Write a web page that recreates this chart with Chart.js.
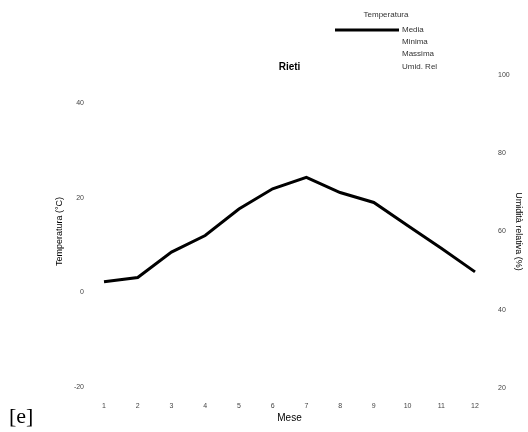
<!DOCTYPE html>
<html lang="it">
<head>
    <meta charset="UTF-8">
    <title>Rieti</title>
    <script src="https://cdn.jsdelivr.net/npm/chart.js"></script>
    <style>
        body { margin: 0; background: #fff; }
        .wrap { width: 528px; height: 432px; position: relative; }
    </style>
</head>
<body>
    <div class="wrap">
        <canvas id="climaChart"></canvas>
    </div>

    <script>
        // Dati
        const mesi = ['1', '2', '3', '4', '5', '6', '7', '8', '9', '10', '11', '12'];
        const media = [2.2, 3.1, 8.5, 12.0, 17.6, 21.9, 24.3, 21.1, 19.0, 14.1, 9.3, 4.3];
        const minima = [];
        const massima = [];
        const umidRel = [];
        const tickTemp = [-20, 0, 20, 40];
        const tickUmid = [20, 40, 60, 80, 100];

        const FONT = "'Liberation Sans', Arial, sans-serif";

        // legenda, titolo e etichetta [e]
        const decorazioni = {
            id: 'decorazioni',
            afterDraw(chart) {
                const ctx = chart.ctx;
                const area = chart.chartArea;
                ctx.save();
                ctx.fillStyle = '#000';
                ctx.textBaseline = 'middle';

                ctx.font = 'bold 10px ' + FONT;
                ctx.textAlign = 'center';
                ctx.fillText('Rieti', (area.left + area.right) / 2, 67);

                ctx.font = '8px ' + FONT;
                ctx.fillStyle = '#333';
                ctx.fillText('Temperatura', 386, 15);

                ctx.textAlign = 'left';
                const righe = [30, 42, 54, 67];
                chart.data.datasets.forEach((ds, i) => {
                    const y = righe[i];
                    ctx.strokeStyle = ds.borderColor;
                    ctx.lineWidth = ds.borderWidth;
                    ctx.beginPath();
                    ctx.moveTo(335, y);
                    ctx.lineTo(399, y);
                    ctx.stroke();
                    ctx.fillText(ds.label, 402, y);
                });

                ctx.fillStyle = '#000';
                ctx.font = '22px "Liberation Serif", serif';
                ctx.textBaseline = 'alphabetic';
                ctx.fillText('[e]', 9, 423);
                ctx.restore();
            }
        };

        const climaChart = new Chart(document.getElementById('climaChart'), {
            type: 'line',
            data: {
                labels: mesi,
                datasets: [
                    { label: 'Media', data: media, borderColor: '#000', borderWidth: 3, pointRadius: 0, yAxisID: 'y', tension: 0 },
                    { label: 'Minima', data: minima, borderColor: 'rgba(0,0,0,0)', borderWidth: 3, pointRadius: 0, yAxisID: 'y' },
                    { label: 'Massima', data: massima, borderColor: 'rgba(0,0,0,0)', borderWidth: 3, pointRadius: 0, yAxisID: 'y' },
                    { label: 'Umid. Rel', data: umidRel, borderColor: 'rgba(0,0,0,0)', borderWidth: 3, pointRadius: 0, yAxisID: 'y1' }
                ]
            },
            options: {
                responsive: true,
                maintainAspectRatio: false,
                animation: false,
                layout: { padding: { top: 75, left: 0, right: 0, bottom: 0 } },
                plugins: {
                    legend: { display: false },
                    title: { display: false },
                    tooltip: { enabled: false }
                },
                scales: {
                    x: {
                        offset: false,
                        grid: { display: false, drawTicks: false },
                        border: { display: false },
                        ticks: { color: '#444', font: { size: 7, family: FONT }, padding: 14, maxRotation: 0, autoSkip: false },
                        title: { display: true, text: 'Mese', color: '#000', font: { size: 10, family: FONT }, padding: { top: 0, bottom: 8 } },
                        afterFit(scale) { scale.height = 44; }
                    },
                    y: {
                        position: 'left',
                        min: -20.3,
                        max: 46,
                        grid: { display: false, drawTicks: false },
                        border: { display: false },
                        afterBuildTicks(scale) { scale.ticks = tickTemp.map(v => ({ value: v })); },
                        ticks: { color: '#444', font: { size: 7, family: FONT }, padding: 20 },
                        title: { display: true, text: 'Temperatura (°C)', color: '#000', font: { size: 9, family: FONT }, padding: { top: 54.6, bottom: 0 } },
                        afterFit(scale) { scale.width = 104; }
                    },
                    y1: {
                        position: 'right',
                        min: 20,
                        max: 100,
                        grid: { display: false, drawTicks: false },
                        border: { display: false },
                        afterBuildTicks(scale) { scale.ticks = tickUmid.map(v => ({ value: v })); },
                        ticks: { color: '#444', font: { size: 7, family: FONT }, padding: 23 },
                        title: { display: true, text: 'Umidità relativa (%)', color: '#000', font: { size: 9, family: FONT }, padding: { top: 4.6, bottom: 0 } },
                        afterFit(scale) { scale.width = 53; }
                    }
                }
            },
            plugins: [decorazioni]
        });
    </script>
</body>
</html>
